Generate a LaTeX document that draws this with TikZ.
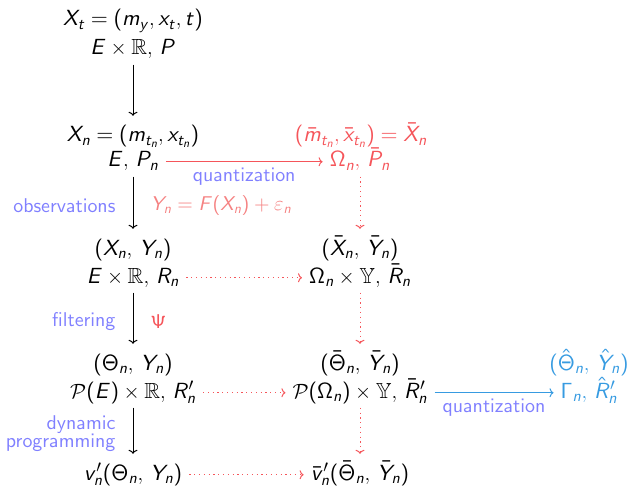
\documentclass[tikz,border=0pt]{standalone}
\usepackage{amssymb}
\usetikzlibrary{arrows.meta}
\DeclareFontFamily{OT1}{sscm}{}
\DeclareFontShape{OT1}{sscm}{m}{n}{<-> cmss10}{}
\DeclareFontShape{OT1}{sscm}{m}{sl}{<-> cmssi10}{}
\DeclareSymbolFont{sansletters}{OT1}{sscm}{m}{sl}
\SetSymbolFont{operators}{normal}{OT1}{sscm}{m}{n}
\DeclareMathSizes{22}{22}{16}{12}
\DeclareMathSizes{20}{20}{14}{10}
\newcommand\mysl[1]{\DeclareMathSymbol{#1}{\mathalpha}{sansletters}{`#1}}
\mysl A\mysl B\mysl C\mysl D\mysl E\mysl F\mysl G\mysl H\mysl I\mysl J\mysl K\mysl L\mysl M
\mysl N\mysl O\mysl P\mysl Q\mysl R\mysl S\mysl T\mysl U\mysl V\mysl W\mysl X\mysl Y\mysl Z
\mysl a\mysl b\mysl c\mysl d\mysl e\mysl f\mysl g\mysl h\mysl i\mysl j\mysl k\mysl l\mysl m
\mysl n\mysl o\mysl p\mysl q\mysl r\mysl s\mysl t\mysl u\mysl v\mysl w\mysl x\mysl y\mysl z
\definecolor{qred}{RGB}{245,85,90}
\definecolor{lred}{RGB}{245,130,130}
\definecolor{lblue}{RGB}{128,128,255}
\definecolor{hblue}{RGB}{55,155,225}
\begin{document}
\begin{tikzpicture}[x=1bp,y=-1bp,
  mathnode/.style={anchor=base, inner xsep=7bp, inner ysep=1bp, text height=16bp, text depth=5.5bp,
    font=\fontencoding{OT1}\fontfamily{sscm}\fontseries{m}\fontshape{n}\fontsize{22}{26}\selectfont},
  lab/.style={font=\fontencoding{OT1}\fontfamily{sscm}\fontseries{m}\fontshape{n}\fontsize{20}{15}\selectfont,
    text=lblue, inner sep=2bp},
  arr/.style={line width=1bp, -{Computer Modern Rightarrow[length=4bp,width=9bp]}},
  vert/.style={arr, shorten <=3bp, shorten >=9bp},
  dots/.style={qred, dash pattern=on 1.2bp off 3.6bp},
]
\useasboundingbox (0,0) rectangle (629,488);
% left column
\node[mathnode] (t1) at (133,26) {$X_t=(m_y,x_t,t)$};
\node[mathnode] (t2) at (133,55) {$E\times\mathbb{R},\,P$};
\node[mathnode] (n1) at (133,142) {$X_n=(m_{t_n},x_{t_n})$};
\node[mathnode] (n2) at (133,167) {$E,\,P_n$};
\node[mathnode] (o1) at (133,255) {$(X_n,\,Y_n)$};
\node[mathnode] (o2) at (133,283) {$E\times\mathbb{R},\,R_n$};
\node[mathnode] (f1) at (133,370) {$(\Theta_n,\,Y_n)$};
\node[mathnode] (f2) at (133,398) {$\mathcal{P}(E)\times\mathbb{R},\,R'_n$};
\node[mathnode] (v) at (133,480) {$v'_n(\Theta_n,\,Y_n)$};
% right column
\node[mathnode, text=qred] (q1) at (361,142) {$(\bar m_{t_n},\bar x_{t_n})=\bar X_n$};
\node[mathnode, text=qred] (q2) at (360,167) {$\Omega_n,\,\bar P_n$};
\node[mathnode] (ob1) at (360,255) {$(\bar X_n,\,\bar Y_n)$};
\node[mathnode] (ob2) at (360,283) {$\Omega_n\times\mathbb{Y},\,\bar R_n$};
\node[mathnode] (fb1) at (360,370) {$(\bar\Theta_n,\,\bar Y_n)$};
\node[mathnode] (fb2) at (360,398) {$\mathcal{P}(\Omega_n)\times\mathbb{Y},\,\bar R'_n$};
\node[mathnode] (vb) at (360,480) {$\bar v'_n(\bar\Theta_n,\,\bar Y_n)$};
% hat column
\node[mathnode, text=hblue] (h1) at (589,370) {$(\hat\Theta_n,\,\hat Y_n)$};
\node[mathnode, text=hblue] (h2) at (589,398) {$\Gamma_n,\,\hat R'_n$};
% vertical arrows
\draw[vert] (t2.south) -- (n1.north);
\draw[vert] (n2.south) -- node[lab, left=15bp] (lobs) {observations}
  node[lab, right=15bp, text=lred] (lY) {$Y_n=F(X_n)+\varepsilon_n$} (o1.north);
\draw[vert] (o2.south) -- node[lab, left=15bp] (lfil) {filtering}
  node[lab, right=15bp, text=qred] (lpsi) {$\Psi$} (f1.north);
\draw[vert] (f2.south) -- node[lab, left=15bp, align=right] (ldyn) {dynamic\\programming} (v.north);
\draw[vert, dots] (q2.south) -- (ob1.north);
\draw[vert, dots] (ob2.south) -- (fb1.north);
\draw[vert, dots] (fb2.south) -- (vb.north);
% horizontal arrows
\draw[arr, qred] (n2.east) -- node[lab, below=4bp] (lq1) {quantization} (q2.west);
\draw[arr, dots] (o2.east) -- (ob2.west);
\draw[arr, dots] (f2.east) -- (fb2.west);
\draw[arr, dots] (v.east) -- (vb.west);
\draw[arr, hblue] (fb2.east) -- node[lab, below=4bp] (lq2) {quantization} (h2.west);
\end{tikzpicture}
\end{document}
